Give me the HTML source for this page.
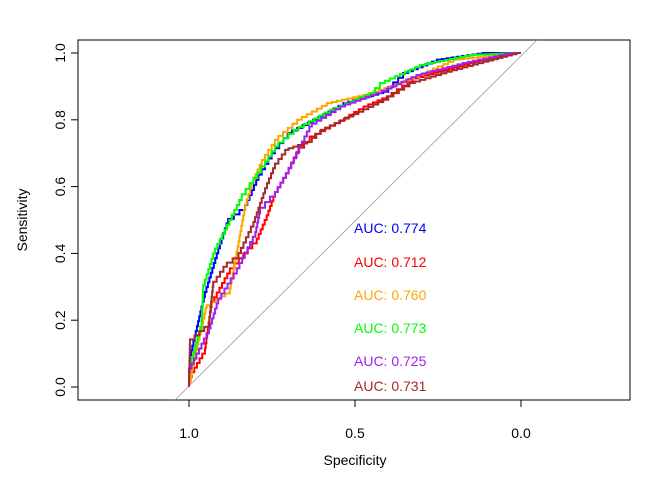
<!DOCTYPE html>
<html><head><meta charset="utf-8">
<style>body{margin:0;background:#fff}svg{display:block;font-family:"Liberation Sans",Arial,sans-serif}</style>
</head><body>
<svg id="chart" width="672" height="480" viewBox="0 0 672 480">
<rect x="78" y="40" width="552" height="360" fill="none" stroke="#000" stroke-width="1"/>
<g id="axes"></g>
<g id="curves"></g>
<g id="labels"></g>
</svg>
<script>
const xTicks=[1.0,0.5,0.0];
const xTickLabels=["1.0","0.5","0.0"];
const yTicks=[0,0.2,0.4,0.6,0.8,1.0];
const yTickLabels=["0.0","0.2","0.4","0.6","0.8","1.0"];
const seriesNames=["blue","red","orange","green","purple","brown"];
const seriesColors=["#0000ff","#ff0000","#ffa500","#00ff00","#a020f0","#a52a2a"];
const aucValues=["0.774","0.712","0.760","0.773","0.725","0.731"];
const blueSpec=[1,0.997,0.952,0.912,0.882,0.831,0.791,0.741,0.69,0.61,0.52,0.40,0.34,0.239,0.10,0];
const blueSens=[0,0.08,0.27,0.40,0.49,0.53,0.62,0.70,0.76,0.80,0.85,0.884,0.94,0.98,1,1];
const redSpec=[1,0.992,0.952,0.932,0.877,0.796,0.766,0.741,0.70,0.67,0.62,0.545,0.46,0.39,0.31,0.139,0.04,0];
const redSens=[0,0.03,0.10,0.24,0.34,0.43,0.50,0.57,0.64,0.70,0.75,0.79,0.84,0.87,0.924,0.97,0.994,1];
const orangeSpec=[1,0.997,0.982,0.947,0.877,0.851,0.831,0.806,0.781,0.731,0.66,0.57,0.46,0.38,0.28,0.189,0];
const orangeSens=[0,0.01,0.08,0.236,0.28,0.42,0.53,0.61,0.665,0.74,0.80,0.85,0.874,0.90,0.94,0.98,1];
const greenSpec=[1,1,0.962,0.957,0.922,0.871,0.841,0.806,0.771,0.731,0.67,0.56,0.44,0.41,0.289,0.139,0];
const greenSens=[0,0.04,0.18,0.29,0.40,0.50,0.56,0.61,0.66,0.72,0.77,0.83,0.88,0.91,0.964,0.994,1];
const purpleSpec=[1,1,0.94,0.912,0.856,0.80,0.786,0.741,0.70,0.66,0.63,0.53,0.42,0.30,0.16,0.018,0];
const purpleSens=[0,0.04,0.16,0.25,0.34,0.45,0.52,0.57,0.64,0.72,0.78,0.84,0.88,0.934,0.97,1,1];
const brownSpec=[1,0.997,0.94,0.927,0.886,0.851,0.806,0.771,0.741,0.70,0.63,0.59,0.505,0.40,0.32,0.209,0.098,0];
const brownSens=[0,0.13,0.18,0.30,0.36,0.385,0.48,0.58,0.655,0.71,0.734,0.77,0.81,0.86,0.91,0.944,0.974,1];
const specs=[blueSpec,redSpec,orangeSpec,greenSpec,purpleSpec,brownSpec];
const senss=[blueSens,redSens,orangeSens,greenSens,purpleSens,brownSens];

const NS="http://www.w3.org/2000/svg";
function xs(s){return 521-s*332;}
function ys(v){return 387-v*334;}
function mk(tag,attrs,parent,text){const e=document.createElementNS(NS,tag);for(const k in attrs)e.setAttribute(k,attrs[k]);if(text!==undefined)e.textContent=text;parent.appendChild(e);return e;}
const axes=document.getElementById('axes');
let l=mk('line',{x1:xs(xTicks[0]),x2:xs(xTicks[xTicks.length-1]),y1:400,y2:400,stroke:'#000'},axes);


xTicks.forEach((t,i)=>{
 const tk=mk('line',{x1:xs(t),x2:xs(t),y1:400,y2:407,stroke:'#000'},axes);
 
 
 const tx=mk('text',{x:xs(t),y:438,'text-anchor':'middle','font-size':'14',fill:'#000'},axes,xTickLabels[i]);
 
 
});
l=mk('line',{x1:78,x2:78,y1:ys(0),y2:ys(1),stroke:'#000'},axes);


yTicks.forEach((t,i)=>{
 const tk=mk('line',{x1:71,x2:78,y1:ys(t),y2:ys(t),stroke:'#000'},axes);
 
 
 const tx=mk('text',{x:0,y:0,transform:`translate(65,${ys(t)}) rotate(-90)`,'text-anchor':'middle','font-size':'14',fill:'#000'},axes,yTickLabels[i]);
 
 
});
let t=mk('text',{x:355,y:465,'text-anchor':'middle','font-size':'14',fill:'#000'},axes,'Specificity');


t=mk('text',{x:0,y:0,transform:'translate(27,220) rotate(-90)','text-anchor':'middle','font-size':'14',fill:'#000'},axes,'Sensitivity');


const d=mk('line',{x1:xs(1.042),y1:ys(-0.039),x2:xs(-0.048),y2:ys(1.039),stroke:'#999','stroke-width':'0.8'},axes);


const curves=document.getElementById('curves');
specs.forEach((sp,k)=>{
 const se=senss[k];
 let p=`M${xs(sp[0])},${ys(se[0])}`;
 for(let i=1;i<sp.length;i++){
  const x0=xs(sp[i-1]),y0=ys(se[i-1]),x1=xs(sp[i]),y1=ys(se[i]);
  const n=Math.max(1,Math.round(Math.max(Math.abs(x1-x0),Math.abs(y1-y0))/5));
  for(let j=1;j<=n;j++){
   p+=` V${y0+(y1-y0)*j/n} H${x0+(x1-x0)*j/n}`;
  }
 }
 const pa=mk('path',{d:p,fill:'none',stroke:seriesColors[k],'stroke-width':'2'},curves);
 
 
});
const labels=document.getElementById('labels');
const labelY=[233,267,300,333,366,391];
aucValues.forEach((v,k)=>{
 const tx=mk('text',{x:354,y:labelY[k],'font-size':'14',fill:seriesColors[k]},labels,'AUC: '+v);
 
 
});
</script>
</body></html>
